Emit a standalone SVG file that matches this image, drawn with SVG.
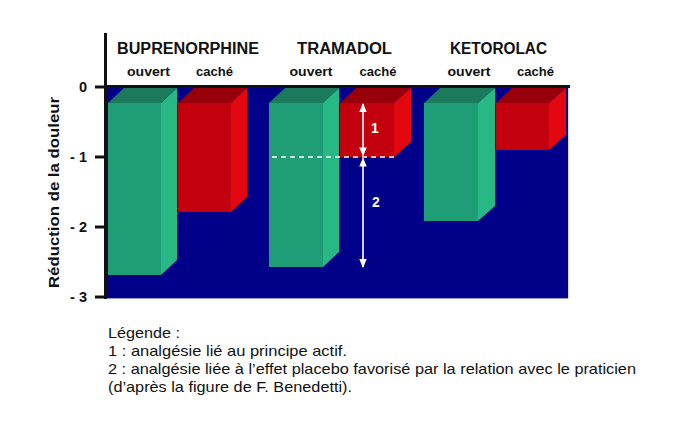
<svg xmlns="http://www.w3.org/2000/svg" width="700" height="438" viewBox="0 0 700 438">
<defs>
<style>
.front-g{fill:#1f9d76}.side-g{fill:#27b886}.top-g{fill:#1b7a5c}
.front-r{fill:#c2000e}.side-r{fill:#e3080f}.top-r{fill:#97000a}
.hdr{font-family:"Liberation Sans",Arial,sans-serif;font-weight:bold;font-size:16px;fill:#111;text-anchor:middle}
.sub{font-family:"Liberation Sans",Arial,sans-serif;font-weight:bold;font-size:13.5px;fill:#111;text-anchor:middle}
.tick{font-family:"Liberation Sans",Arial,sans-serif;font-weight:bold;font-size:14.5px;fill:#111;text-anchor:end}
.lbl{font-family:"Liberation Sans",Arial,sans-serif;font-weight:bold;font-size:14px;fill:#fff;text-anchor:middle}
.leg{font-family:"Liberation Sans",Arial,sans-serif;font-size:15px;fill:#111}
.ax{stroke:#111;stroke-width:3;fill:none}
.wl{stroke:#fff;stroke-width:1.6;fill:none}
</style>
<marker id="ah" viewBox="0 0 10 10" refX="9" refY="5" markerWidth="9" markerHeight="7.5" orient="auto-start-reverse" markerUnits="userSpaceOnUse" preserveAspectRatio="none">
<path d="M0,0 L10,5 L0,10 Z" fill="#fff"/>
</marker>
</defs>
<rect width="700" height="438" fill="#fff"/>
<g id="plot-area">
<rect x="106" y="87" width="462" height="211" fill="#000088"/>
<line x1="106" y1="298.5" x2="568" y2="298.5" stroke="#9a9ad8" stroke-width="1"/>
<line x1="568.5" y1="87" x2="568.5" y2="299" stroke="#d8d8f0" stroke-width="1"/>
</g>
<g id="bar-bup-ouvert">
<polygon class="top-g" points="108,103 161,103 177,88 124,88"/>
<polygon class="side-g" points="161,103 177,88 177,260 161,275"/>
<rect class="front-g" x="108" y="103" width="53" height="172"/>
</g>
<g id="bar-bup-cache">
<polygon class="top-r" points="178,103 231,103 247,88 194,88"/>
<polygon class="side-r" points="231,103 247,88 247,197 231,212"/>
<rect class="front-r" x="178" y="103" width="53" height="109"/>
</g>
<g id="bar-tra-ouvert">
<polygon class="top-g" points="269,103 323,103 339,88 285,88"/>
<polygon class="side-g" points="323,103 339,88 339,252 323,267"/>
<rect class="front-g" x="269" y="103" width="54" height="164"/>
</g>
<g id="bar-tra-cache">
<polygon class="top-r" points="340,103 394,103 411,88 356,88"/>
<polygon class="side-r" points="394,103 411,88 411,142 394,157"/>
<rect class="front-r" x="340" y="103" width="54" height="54"/>
</g>
<g id="bar-ket-ouvert">
<polygon class="top-g" points="424,103 478,103 495,88 440,88"/>
<polygon class="side-g" points="478,103 495,88 495,206 478,221"/>
<rect class="front-g" x="424" y="103" width="54" height="118"/>
</g>
<g id="bar-ket-cache">
<polygon class="top-r" points="496,103 549,103 566,88 512,88"/>
<polygon class="side-r" points="549,103 566,88 566,135 549,150"/>
<rect class="front-r" x="496" y="103" width="53" height="47"/>
</g>
<g id="axes">
<line class="ax" x1="105.5" y1="33" x2="105.5" y2="299"/>
<line class="ax" x1="104" y1="86.5" x2="570" y2="86.5"/>
<line class="ax" x1="95" y1="87" x2="105" y2="87"/>
<line class="ax" x1="95" y1="157" x2="105" y2="157"/>
<line class="ax" x1="95" y1="227" x2="105" y2="227"/>
<line class="ax" x1="95" y1="297" x2="105" y2="297"/>
<text class="tick" x="87" y="92">0</text>
<text class="tick" x="87" y="162">- 1</text>
<text class="tick" x="87" y="232">- 2</text>
<text class="tick" x="87" y="302">- 3</text>
<text x="59" y="192.5" transform="rotate(-90 59 192.5)" style="font-family:'Liberation Sans',Arial,sans-serif;font-weight:bold;font-size:15px;fill:#111;text-anchor:middle" textLength="191" lengthAdjust="spacingAndGlyphs">Réduction de la douleur</text>
</g>
<g id="headers">
<text class="hdr" x="188" y="54" textLength="142" lengthAdjust="spacingAndGlyphs">BUPRENORPHINE</text>
<text class="hdr" x="344.5" y="54" textLength="95" lengthAdjust="spacingAndGlyphs">TRAMADOL</text>
<text class="hdr" x="498.5" y="54" textLength="97" lengthAdjust="spacingAndGlyphs">KETOROLAC</text>
<text class="sub" x="148.5" y="76" textLength="43" lengthAdjust="spacingAndGlyphs">ouvert</text>
<text class="sub" x="214.5" y="76" textLength="37" lengthAdjust="spacingAndGlyphs">caché</text>
<text class="sub" x="311" y="76" textLength="43" lengthAdjust="spacingAndGlyphs">ouvert</text>
<text class="sub" x="378" y="76" textLength="37" lengthAdjust="spacingAndGlyphs">caché</text>
<text class="sub" x="469" y="76" textLength="43" lengthAdjust="spacingAndGlyphs">ouvert</text>
<text class="sub" x="535.5" y="76" textLength="37" lengthAdjust="spacingAndGlyphs">caché</text>
</g>
<g id="connectors">
<line x1="272" y1="157" x2="398" y2="157" stroke="#fff" stroke-width="1.5" stroke-dasharray="5,4"/>
<line class="wl" x1="363" y1="104" x2="363" y2="155.5" marker-start="url(#ah)" marker-end="url(#ah)"/>
<line class="wl" x1="363" y1="158.5" x2="363" y2="267" marker-start="url(#ah)" marker-end="url(#ah)"/>
</g>
<g id="labels">
<text class="lbl" x="375" y="133">1</text>
<text class="lbl" x="376" y="207">2</text>
</g>
<g id="legend">
<text class="leg" x="108" y="338" textLength="72" lengthAdjust="spacingAndGlyphs">Légende :</text>
<text class="leg" x="108" y="356" textLength="239" lengthAdjust="spacingAndGlyphs">1 : analgésie lié au principe actif.</text>
<text class="leg" x="108" y="374" textLength="528" lengthAdjust="spacingAndGlyphs">2 : analgésie liée à l’effet placebo favorisé par la relation avec le praticien</text>
<text class="leg" x="108" y="392" textLength="244" lengthAdjust="spacingAndGlyphs">(d’après la figure de F. Benedetti).</text>
</g>
</svg>
